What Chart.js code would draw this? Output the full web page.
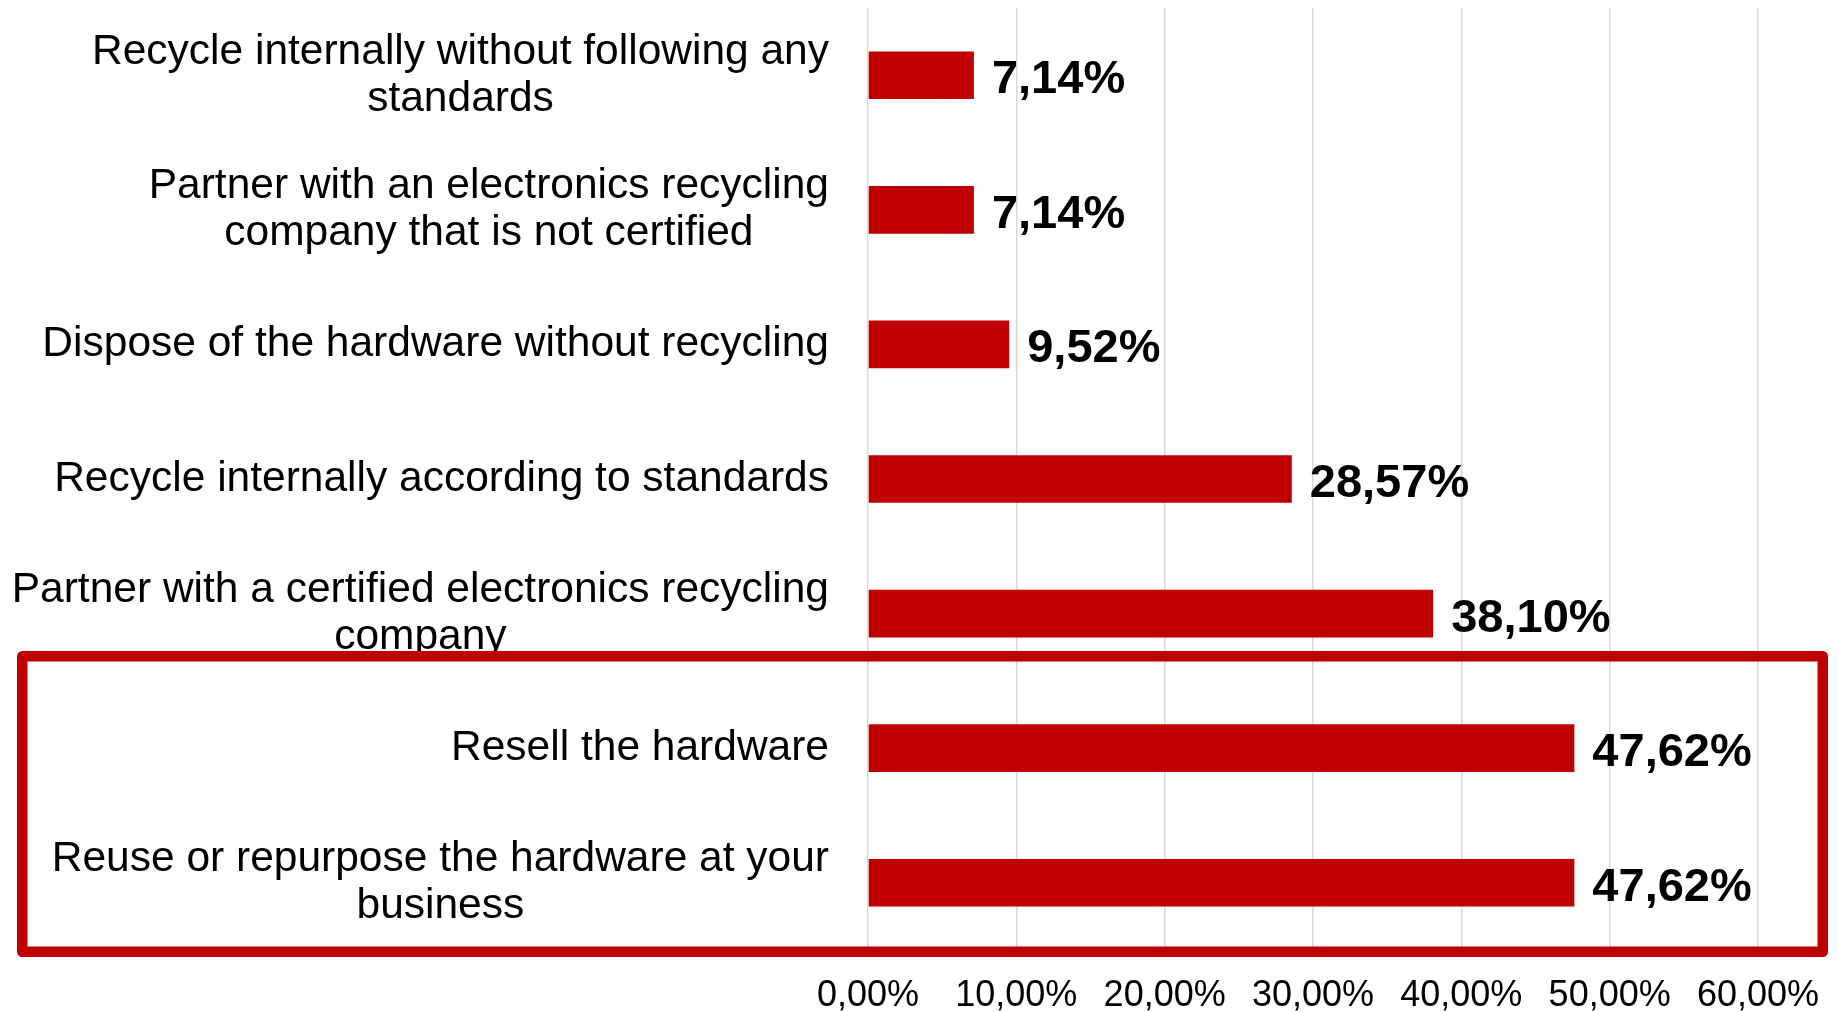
<!DOCTYPE html>
<html lang="en">
<head>
    <meta charset="UTF-8">
    <title>Hardware disposal practices</title>
    <script src="https://cdn.jsdelivr.net/npm/chart.js"></script>
    <style>
        body { margin: 0; background: #fff; }
        canvas { display: block; }
    </style>
</head>
<body>
    <canvas id="disposalChart" width="1839" height="1012"></canvas>

    <script>
// answers, top to bottom
const categories = [
    ['Recycle internally without following any', 'standards'],
    ['Partner with an electronics recycling', 'company that is not certified'],
    ['Dispose of the hardware without recycling'],
    ['Recycle internally according to standards'],
    ['Partner with a certified electronics recycling', 'company'],
    ['Resell the hardware'],
    ['Reuse or repurpose the hardware at your', 'business']
];
const shares = [7.14, 7.14, 9.52, 28.57, 38.10, 47.62, 47.62];
const xTickLabels = ['0,00%', '10,00%', '20,00%', '30,00%', '40,00%', '50,00%', '60,00%'];

const RED = '#C00000';
const FONT = '"Liberation Sans", Arial, sans-serif';

function pct(v) {
    return v.toFixed(2).replace('.', ',') + '%';
}

// value labels to the right of each bar
const valueLabels = {
    id: 'valueLabels',
    afterDatasetsDraw(chart) {
        const ctx = chart.ctx;
        const meta = chart.getDatasetMeta(0);
        ctx.save();
        ctx.font = 'bold 47px ' + FONT;
        ctx.fillStyle = '#000';
        ctx.textAlign = 'left';
        ctx.textBaseline = 'middle';
        meta.data.forEach((bar, i) => {
            ctx.fillText(pct(shares[i]), bar.x + 18, bar.y + 5);
        });
        ctx.restore();
    }
};

// category names: block right-aligned to the axis, lines centred within it
const categoryLabels = {
    id: 'categoryLabels',
    afterDraw(chart) {
        const ctx = chart.ctx;
        const y = chart.scales.y;
        const right = chart.chartArea.left - 39;
        const lineGap = 47;
        ctx.save();
        ctx.font = '42.5px ' + FONT;
        ctx.fillStyle = '#000';
        ctx.textAlign = 'center';
        ctx.textBaseline = 'middle';
        categories.forEach((lines, i) => {
            const w = Math.max(...lines.map(l => ctx.measureText(l).width));
            const cx = right - w / 2;
            const cy = y.getPixelForValue(i);
            lines.forEach((l, k) => {
                ctx.fillText(l, cx, cy + (k - (lines.length - 1) / 2) * lineGap);
            });
        });

        // highlight frame round the last two answers
        ctx.strokeStyle = RED;
        ctx.lineWidth = 10.5;
        ctx.lineJoin = 'round';
        ctx.strokeRect(22.25, 656.25, 1800.5, 295.5);
        ctx.restore();
    }
};

new Chart(document.getElementById('disposalChart'), {
    type: 'bar',
    data: {
        labels: categories,
        datasets: [{
            data: shares,
            backgroundColor: RED,
            borderWidth: 0,
            categoryPercentage: 1,
            barPercentage: 0.354
        }]
    },
    options: {
        indexAxis: 'y',
        responsive: false,
        animation: false,
        layout: { padding: { top: 8, right: 81, left: 0, bottom: 0 } },
        plugins: {
            legend: { display: false },
            tooltip: { enabled: false }
        },
        scales: {
            x: {
                min: 0,
                max: 60,
                ticks: {
                    stepSize: 10,
                    padding: 24,
                    maxRotation: 0,
                    color: '#000',
                    font: { family: FONT, size: 36 },
                    callback: (v, i) => xTickLabels[i]
                },
                grid: { color: '#d9d9d9', lineWidth: 1.5, drawTicks: false },
                border: { display: false },
                afterFit: s => {
                    s.height = 62;
                    s.paddingLeft = 0;
                    s.paddingRight = 0;
                }
            },
            y: {
                ticks: { display: false },
                grid: { display: false },
                border: { display: false },
                afterFit: s => { s.width = 868; }
            }
        }
    },
    plugins: [valueLabels, categoryLabels]
});
    </script>
</body>
</html>
